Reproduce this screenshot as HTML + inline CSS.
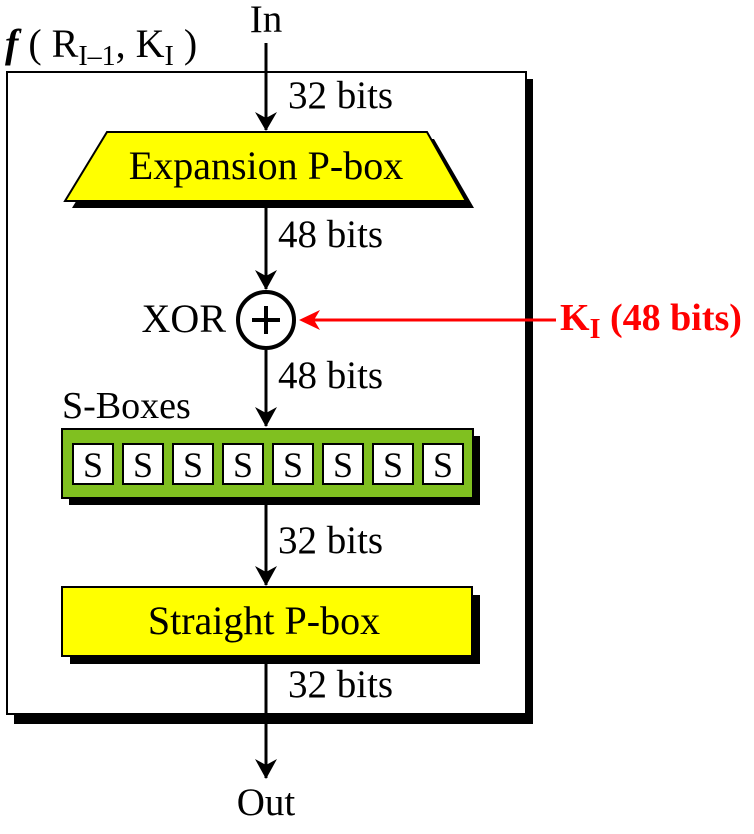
<!DOCTYPE html>
<html><head><meta charset="utf-8"><style>
html,body{margin:0;padding:0;background:#fff}
text{font-family:"Liberation Serif","DejaVu Serif",serif}
</style></head><body>
<svg width="754" height="829" viewBox="0 0 754 829" xmlns="http://www.w3.org/2000/svg" font-family="Liberation Serif, DejaVu Serif, serif">
<g>
<rect x="14" y="79" width="519" height="645" fill="#000"/>
<rect x="7" y="72" width="519" height="642" fill="#fff" stroke="#000" stroke-width="2"/>
</g>
<text x="5" y="57" font-size="40" font-family="Liberation Serif, serif"><tspan font-weight="bold" font-style="italic">f</tspan> ( R<tspan font-size="28" dy="8">I–1</tspan><tspan dy="-8">, K</tspan><tspan font-size="28" dy="8">I</tspan><tspan dy="-8"> )</tspan></text>
<text x="266" y="32" font-size="39" text-anchor="middle" font-family="Liberation Serif, serif">In</text>
<g stroke="#000" stroke-width="3" fill="none">
<line x1="266" y1="43" x2="266" y2="130"/>
<line x1="266" y1="207" x2="266" y2="289"/>
<line x1="266" y1="350" x2="266" y2="426"/>
<line x1="266" y1="500" x2="266" y2="585"/>
<line x1="266" y1="657" x2="266" y2="778"/>
</g>
<g fill="#000">
<path d="M255,112 L266,131 L277,112 L266,118 z"/>
<path d="M255,270 L266,290 L277,270 L266,276 z"/>
<path d="M255,407 L266,427 L277,407 L266,413 z"/>
<path d="M255,566 L266,586 L277,566 L266,572 z"/>
<path d="M255,759 L266,779 L277,759 L266,765 z"/>
</g>
<g>
<polygon points="114,139 434,139 474,208 72,208" fill="#000"/>
<polygon points="107,132 427,132 466,201 65,201" fill="#ffff00" stroke="#000" stroke-width="2"/>
<text x="266" y="179" font-size="40" text-anchor="middle" font-family="Liberation Serif, serif">Expansion P-box</text>
</g>
<text x="288" y="108" font-size="39" font-family="Liberation Serif, serif">32 bits</text>
<text x="278" y="247" font-size="39" font-family="Liberation Serif, serif">48 bits</text>
<text x="278" y="388" font-size="39" font-family="Liberation Serif, serif">48 bits</text>
<text x="278" y="553" font-size="39" font-family="Liberation Serif, serif">32 bits</text>
<text x="288" y="697" font-size="39" font-family="Liberation Serif, serif">32 bits</text>
<g>
<circle cx="266" cy="320" r="28" fill="#fff" stroke="#000" stroke-width="4"/>
<line x1="252" y1="320" x2="280" y2="320" stroke="#000" stroke-width="4"/>
<line x1="266" y1="306" x2="266" y2="334" stroke="#000" stroke-width="4"/>
</g>
<text x="226" y="332" font-size="40" text-anchor="end" font-family="Liberation Serif, serif">XOR</text>
<g>
<line x1="305" y1="320" x2="556" y2="320" stroke="#f00" stroke-width="3"/>
<path d="M299,320 L320,310 L314,320 L320,330 z" fill="#f00"/>
</g>
<text x="560" y="330" font-size="38" font-weight="bold" fill="#f00" font-family="Liberation Serif, serif">K<tspan font-size="28" dy="8">I</tspan><tspan dy="-8"> (48 bits)</tspan></text>
<text x="62" y="418" font-size="38" font-family="Liberation Serif, serif">S-Boxes</text>
<g>
<rect x="69" y="436" width="411" height="69" fill="#000"/>
<rect x="62" y="429" width="411" height="69" fill="#80c020" stroke="#000" stroke-width="2"/>
<g id="sb"></g>
</g>
<g>
<rect x="70" y="595" width="410" height="69" fill="#000"/>
<rect x="62" y="587" width="410" height="69" fill="#ffff00" stroke="#000" stroke-width="2"/>
<text x="264" y="634" font-size="40" text-anchor="middle" font-family="Liberation Serif, serif">Straight P-box</text>
</g>
<text x="266" y="815" font-size="39" text-anchor="middle" font-family="Liberation Serif, serif">Out</text>
</svg>
<script>
const sboxLabels = ["S","S","S","S","S","S","S","S"];
const g = document.getElementById('sb');
const ns = 'http://www.w3.org/2000/svg';
sboxLabels.forEach((l,i)=>{
  const x = 73 + i*50;
  const r = document.createElementNS(ns,'rect');
  r.setAttribute('x',x);r.setAttribute('y',444);r.setAttribute('width',40);r.setAttribute('height',40);
  r.setAttribute('fill','#fff');r.setAttribute('stroke','#000');r.setAttribute('stroke-width','2');
  
  
  g.appendChild(r);
  const t = document.createElementNS(ns,'text');
  t.setAttribute('x',x+20);t.setAttribute('y',477);t.setAttribute('font-size','36');t.setAttribute('text-anchor','middle');
  t.setAttribute('font-family','Liberation Serif, serif');
  t.textContent = l;
  
  
  g.appendChild(t);
});
</script>
</body></html>
